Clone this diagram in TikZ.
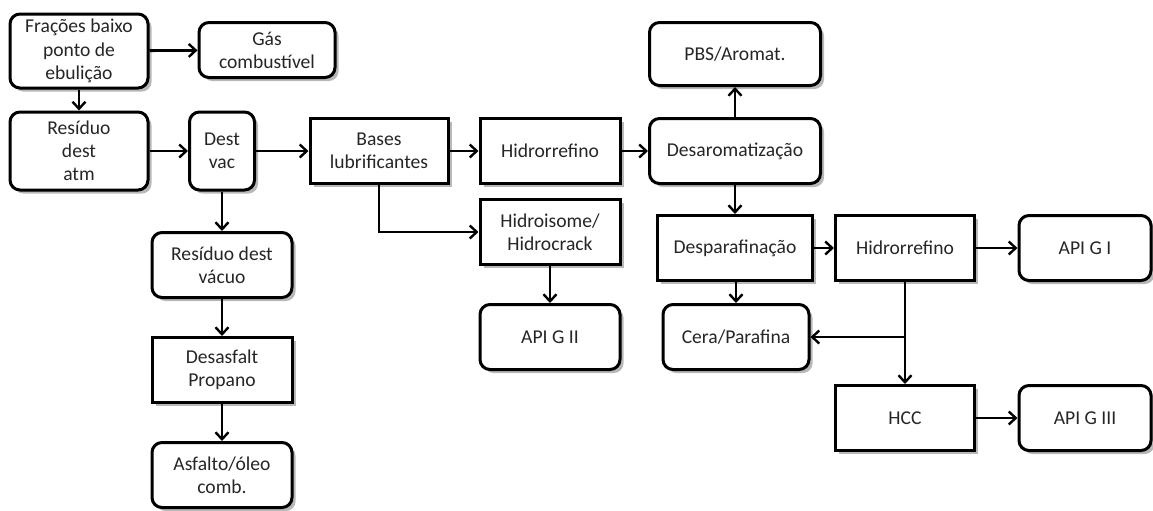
\documentclass[tikz,border=0pt]{standalone}
\usepackage{fontspec}
\setmainfont{Carlito}
\usepackage{tikz}
\usetikzlibrary{arrows.meta}
\usetikzlibrary{shadows}

\begin{document}
\begin{tikzpicture}[x=0.5pt,y=-0.5pt]
    \tikzset{box/.style = {shape=rectangle,draw,line width=1.5pt,fill=white,align=center,inner sep=1pt,
        text=black!85,font=\fontsize{9.8}{11.6}\selectfont,
        drop shadow={shadow xshift=1.8pt,shadow yshift=-1.8pt,fill=gray!70,opacity=0.8}}}
    \tikzset{rbox/.style = {box,rounded corners=5pt}}
    \tikzset{sbox/.style = {box}}
    \tikzset{edge/.style = {line width=1.4pt,-{Straight Barb[length=3.5pt,width=6.5pt,line width=1.2pt]}}}

    \useasboundingbox (0,0) rectangle (1153,510);

    % vertices

    \node[rbox,minimum width=69pt,minimum height=37pt] (frac) at (79,51) {Frações baixo\\ponto de\\ebulição};
    \node[rbox,minimum width=68pt,minimum height=27.5pt] (gas) at (267,50) {Gás\\combustível};
    \node[rbox,minimum width=69pt,minimum height=39pt] (resatm) at (79,151) {Resíduo\\dest\\atm};
    \node[rbox,minimum width=32.5pt,minimum height=39pt] (destvac) at (222,151) {Dest\\vac};
    \node[sbox,minimum width=69pt,minimum height=32.5pt] (bases) at (379,151) {Bases\\lubrificantes};
    \node[sbox,minimum width=70pt,minimum height=32.5pt] (hidroA) at (550,151) {Hidrorrefino};
    \node[sbox,minimum width=70pt,minimum height=32.5pt] (hisom) at (550,232) {Hidroisome/\\Hidrocrack};
    \node[rbox,minimum width=70pt,minimum height=32.5pt] (resvac) at (222,265) {Resíduo dest\\vácuo};
    \node[sbox,minimum width=70pt,minimum height=32.5pt] (desasf) at (222,370) {Desasfalt\\Propano};
    \node[rbox,minimum width=70pt,minimum height=32.5pt] (asfalto) at (222,475) {Asfalto/óleo\\comb.};
    \node[rbox,minimum width=70pt,minimum height=32.5pt] (apigII) at (550,337) {API G II};
    \node[rbox,minimum width=85.5pt,minimum height=31.5pt] (pbs) at (735,54) {PBS/Aromat.};
    \node[rbox,minimum width=85.5pt,minimum height=32.5pt] (desarom) at (735,151) {Desaromatização};
    \node[sbox,minimum width=77.5pt,minimum height=32.5pt] (despar) at (735,248) {Desparafinação};
    \node[sbox,minimum width=69.5pt,minimum height=32.5pt] (hidroB) at (905,248) {Hidrorrefino};
    \node[rbox,minimum width=66pt,minimum height=32.5pt] (apigI) at (1085,248) {API G I};
    \node[rbox,minimum width=73pt,minimum height=32.5pt] (cera) at (736,337) {Cera/Parafina};
    \node[sbox,minimum width=69.5pt,minimum height=32.5pt] (hcc) at (905,418) {HCC};
    \node[rbox,minimum width=66pt,minimum height=32.5pt] (apigIII) at (1085,418) {API G III};

    \coordinate (split) at (hidroB.south |- cera.east);

    % edges

    \draw[edge] (frac) to (gas);
    \draw[edge] (frac) to (resatm);
    \draw[edge] (resatm) to (destvac);
    \draw[edge] (destvac) to (bases);
    \draw[edge] (bases) to (hidroA);
    \draw[edge] (hidroA) to (desarom);
    \draw[edge] (desarom) to (pbs);
    \draw[edge] (desarom) to (despar);
    \draw[edge] (despar) to (hidroB);
    \draw[edge] (hidroB) to (apigI);
    \draw[edge] (hcc) to (apigIII);
    \draw[edge] (destvac) to (resvac);
    \draw[edge] (resvac) to (desasf);
    \draw[edge] (desasf) to (asfalto);
    \draw[edge] (bases.south) |- (hisom.west);
    \draw[edge] (hisom) to (apigII);
    \draw[edge] (despar.south -| cera.north) to (cera.north);
    \draw[edge] (hidroB.south) to (hcc.north);
    \draw[edge] (split) to (cera.east);
      \end{tikzpicture}
\end{document}
